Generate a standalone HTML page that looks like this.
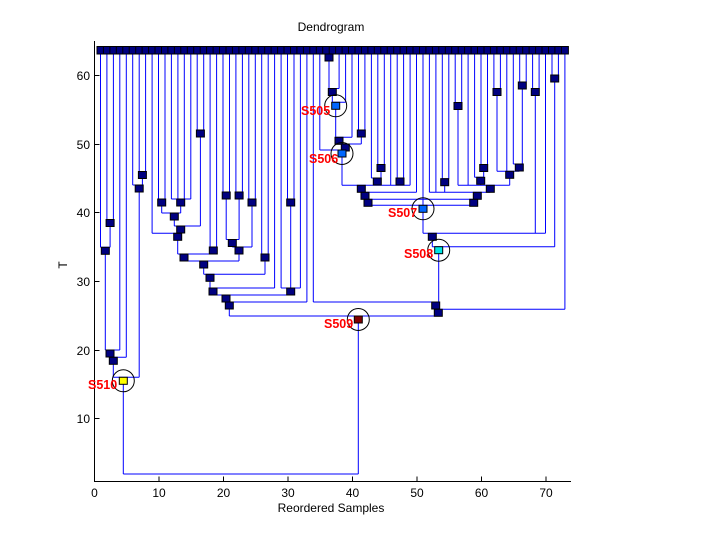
<!DOCTYPE html>
<html><head><meta charset="utf-8"><style>
html,body{margin:0;padding:0;background:#fff;}
svg{display:block;}
text{font-family:"Liberation Sans",sans-serif;}
</style></head><body>
<svg width="720" height="540" viewBox="0 0 720 540" xmlns="http://www.w3.org/2000/svg">
<rect width="720" height="540" fill="#fff"/>
<text x="331" y="31" font-size="12" text-anchor="middle">Dendrogram</text>
<text x="331" y="512" font-size="12" text-anchor="middle">Reordered Samples</text>
<text x="67" y="265" font-size="12" text-anchor="middle" transform="rotate(-90 67 265)">T</text>
<!-- axes -->
<path d="M94.5 41 V481.5 H571" fill="none" stroke="#000" stroke-width="1"/>
<path d="M94.5 418.5h5 M94.5 350.5h5 M94.5 281.5h5 M94.5 212.5h5 M94.5 144.5h5 M94.5 75.5h5
M159 481.5v-5 M223.5 481.5v-5 M288 481.5v-5 M352.5 481.5v-5 M417 481.5v-5 M481.5 481.5v-5 M546 481.5v-5" stroke="#000"/>
<g font-size="12" text-anchor="end">
<text x="90" y="423">10</text><text x="90" y="355">20</text><text x="90" y="286">30</text>
<text x="90" y="217">40</text><text x="90" y="149">50</text><text x="90" y="80">60</text>
</g>
<g font-size="12" text-anchor="middle">
<text x="94.5" y="497">0</text><text x="159" y="497">10</text><text x="223.5" y="497">20</text>
<text x="288" y="497">30</text><text x="352.5" y="497">40</text><text x="417" y="497">50</text>
<text x="481.5" y="497">60</text><text x="546" y="497">70</text>
</g>
<!-- tree lines -->
<path fill="none" stroke="#0000ff" stroke-width="1" d="
M100.5 54V247.3 M106.9 54V219.5 M113.4 54V219.5 M119.8 54V350 M126.3 54V357.3
M132.7 54V185 M139.2 54V171.5 M145.6 54V171.5 M152.1 54V233.3
M158.5 54V199 M165 54V199 M171.4 54V199 M177.9 54V199 M184.3 54V199 M190.8 54V199
M197.2 54V130 M203.7 54V130 M210.1 54V247 M216.6 54V247
M223 54V192 M229.5 54V192 M235.9 54V192 M242.4 54V192 M248.8 54V199 M255.3 54V199
M261.7 54V254 M268.2 54V254 M274.6 54V288 M281.1 54V288 M287.5 54V199 M294 54V199
M300.4 54V288 M306.9 54V302 M313.3 54V302 M319.8 54V150
M339.1 54V88.5 M345.6 54V102.3 M352 54V137.3 M358.5 54V130 M364.9 54V130
M371.4 54V178 M377.8 54V164.5 M384.3 54V164.5 M390.7 54V185.3 M397.2 54V178 M403.6 54V178
M410.1 54V185.3 M416.5 54V192.3 M423 54V205.3 M429.4 54V192.3 M435.9 54V192.3
M442.3 54V178.7 M448.8 54V178.7 M455.2 54V102.5 M461.7 54V102.5 M468.1 54V185.3
M474.6 54V177.3 M481 54V164.5 M487.5 54V164.5 M493.9 54V88.5 M500.4 54V88.5
M506.8 54V171.3 M513.3 54V164 M519.7 54V82 M526.2 54V82 M532.6 54V88.5 M539.1 54V88.5
M545.5 54V233.3 M552 54V75 M558.4 54V75 M564.9 54V309.3
M106.9 219.5H113.4 M110.1 219.5V247.3 M100.5 247.3H110.1 M105.3 247.3V350 M105.3 350H119.8
M110 350V357.3 M110 357.3H126.3 M113.3 357.3V377.3 M139.2 171.5H145.6 M142.4 171.5V185
M132.7 185H142.4 M139.2 185V377.3 M113.3 377.3H139.2 M123.3 377.3V474 M123.3 474H358.3
M158.5 199H165 M171.4 199H190.8 M161.7 199V213 M180.7 199V213 M161.7 213H180.7
M174.3 213V226 M197.2 130H203.7 M200.4 130V226 M174.3 226H200.4 M180.7 226V233.3
M152.1 233.3H180.7 M177.7 233.3V254 M210.1 247H216.6 M213.3 247V254 M177.7 254H213.3
M223 192H229.5 M235.9 192H242.4 M226.2 192V239.5 M239.1 192V239.5 M226.2 239.5H239.1
M232.3 239.5V247 M248.8 199H255.3 M252 199V247 M232.3 247H252 M239 247V261 M184 254V261
M184 261H239 M203.7 261V274.3 M261.7 254H268.2 M265 254V274.3 M203.7 274.3H265
M210 274.3V288 M210 288H274.6 M287.5 199H294 M290.7 199V288 M281.1 288H300.4
M213 288V295 M290.7 288V295 M213 295H290.7 M226 295V302 M226 302H306.9 M229.3 302V316
M229.3 316H438.3 M358.3 316V474
M326.2 54H332.7 M329 54V88.5 M329 88.5H339.1 M332.3 88.5V102.3 M332.3 102.3H345.6
M335.7 102.3V137.3 M335.7 137.3H352 M339 137.3V144 M358.5 130H364.9 M361.3 130V144
M339 144H361.3 M345.3 144V150 M319.8 150H345.3 M342 150V185.3
M377.8 164.5H384.3 M381 164.5V178 M371.4 178H381 M377.3 178V185.3 M397.2 178H403.6 M400 178V185.3
M342 185.3H410.1 M361.3 185.3V192.3 M361.3 192.3H416.5 M365 192.3V199.3
M455.2 102.5H461.7 M458 102.5V185.3 M481 164.5H487.5 M483.7 164.5V177.3 M474.6 177.3H483.7
M480.7 177.3V185.3 M493.9 88.5H500.4 M497 88.5V171.3 M519.7 82H526.2 M522.3 82V164
M513.3 164H522.3 M519.3 164V171.3 M497 171.3H519.3 M509.7 171.3V185.3 M458 185.3H509.7
M442.3 178.7H448.8 M444.7 178.7V192.3 M490.3 185.3V192.3 M429.4 192.3H490.3 M477.3 192.3V199.3
M365 199.3H477.3 M368 199.3V205.3 M473.7 199.3V205.3 M368 205.3H473.7 M423 205.3V233.3
M532.6 88.5H539.1 M535.3 88.5V233.3 M423 233.3H545.5 M432.3 233.3V246.7
M552 75H558.4 M554.7 75V246.7 M432.3 246.7H554.7 M438.7 246.7V302 M313.3 302H438.7
M435.7 302V309.3 M435.7 309.3H564.9 M438.3 309.3V316
"/>
<!-- leaf squares -->
<g fill="#000080" stroke="#000" stroke-width="1">
<rect x="97" y="46.5" width="7" height="7.5"/><rect x="103.4" y="46.5" width="7" height="7.5"/><rect x="109.9" y="46.5" width="7" height="7.5"/><rect x="116.3" y="46.5" width="7" height="7.5"/><rect x="122.8" y="46.5" width="7" height="7.5"/><rect x="129.2" y="46.5" width="7" height="7.5"/><rect x="135.7" y="46.5" width="7" height="7.5"/><rect x="142.1" y="46.5" width="7" height="7.5"/><rect x="148.6" y="46.5" width="7" height="7.5"/><rect x="155" y="46.5" width="7" height="7.5"/><rect x="161.5" y="46.5" width="7" height="7.5"/><rect x="167.9" y="46.5" width="7" height="7.5"/><rect x="174.4" y="46.5" width="7" height="7.5"/><rect x="180.8" y="46.5" width="7" height="7.5"/><rect x="187.3" y="46.5" width="7" height="7.5"/><rect x="193.7" y="46.5" width="7" height="7.5"/><rect x="200.2" y="46.5" width="7" height="7.5"/><rect x="206.6" y="46.5" width="7" height="7.5"/><rect x="213.1" y="46.5" width="7" height="7.5"/><rect x="219.5" y="46.5" width="7" height="7.5"/><rect x="226" y="46.5" width="7" height="7.5"/><rect x="232.4" y="46.5" width="7" height="7.5"/><rect x="238.9" y="46.5" width="7" height="7.5"/><rect x="245.3" y="46.5" width="7" height="7.5"/><rect x="251.8" y="46.5" width="7" height="7.5"/><rect x="258.2" y="46.5" width="7" height="7.5"/><rect x="264.7" y="46.5" width="7" height="7.5"/><rect x="271.1" y="46.5" width="7" height="7.5"/><rect x="277.6" y="46.5" width="7" height="7.5"/><rect x="284" y="46.5" width="7" height="7.5"/><rect x="290.5" y="46.5" width="7" height="7.5"/><rect x="296.9" y="46.5" width="7" height="7.5"/><rect x="303.4" y="46.5" width="7" height="7.5"/><rect x="309.8" y="46.5" width="7" height="7.5"/><rect x="316.3" y="46.5" width="7" height="7.5"/><rect x="322.7" y="46.5" width="7" height="7.5"/><rect x="329.2" y="46.5" width="7" height="7.5"/><rect x="335.6" y="46.5" width="7" height="7.5"/><rect x="342.1" y="46.5" width="7" height="7.5"/><rect x="348.5" y="46.5" width="7" height="7.5"/><rect x="355" y="46.5" width="7" height="7.5"/><rect x="361.4" y="46.5" width="7" height="7.5"/><rect x="367.9" y="46.5" width="7" height="7.5"/><rect x="374.3" y="46.5" width="7" height="7.5"/><rect x="380.8" y="46.5" width="7" height="7.5"/><rect x="387.2" y="46.5" width="7" height="7.5"/><rect x="393.7" y="46.5" width="7" height="7.5"/><rect x="400.1" y="46.5" width="7" height="7.5"/><rect x="406.6" y="46.5" width="7" height="7.5"/><rect x="413" y="46.5" width="7" height="7.5"/><rect x="419.5" y="46.5" width="7" height="7.5"/><rect x="425.9" y="46.5" width="7" height="7.5"/><rect x="432.4" y="46.5" width="7" height="7.5"/><rect x="438.8" y="46.5" width="7" height="7.5"/><rect x="445.3" y="46.5" width="7" height="7.5"/><rect x="451.7" y="46.5" width="7" height="7.5"/><rect x="458.2" y="46.5" width="7" height="7.5"/><rect x="464.6" y="46.5" width="7" height="7.5"/><rect x="471.1" y="46.5" width="7" height="7.5"/><rect x="477.5" y="46.5" width="7" height="7.5"/><rect x="484" y="46.5" width="7" height="7.5"/><rect x="490.4" y="46.5" width="7" height="7.5"/><rect x="496.9" y="46.5" width="7" height="7.5"/><rect x="503.3" y="46.5" width="7" height="7.5"/><rect x="509.8" y="46.5" width="7" height="7.5"/><rect x="516.2" y="46.5" width="7" height="7.5"/><rect x="522.7" y="46.5" width="7" height="7.5"/><rect x="529.1" y="46.5" width="7" height="7.5"/><rect x="535.6" y="46.5" width="7" height="7.5"/><rect x="542" y="46.5" width="7" height="7.5"/><rect x="548.5" y="46.5" width="7" height="7.5"/><rect x="554.9" y="46.5" width="7" height="7.5"/><rect x="561.4" y="46.5" width="7" height="7.5"/>
</g>
<!-- internal nodes -->
<g fill="#000080" stroke="#000" stroke-width="1">
<rect x="106.1" y="219.5" width="8" height="7"/><rect x="101.3" y="247.3" width="8" height="7"/><rect x="106" y="350" width="8" height="7"/><rect x="109.3" y="357.3" width="8" height="7"/>
<rect x="138.4" y="171.5" width="8" height="7"/><rect x="135.2" y="185" width="8" height="7"/><rect x="157.7" y="199" width="8" height="7"/><rect x="176.7" y="199" width="8" height="7"/>
<rect x="170.3" y="213" width="8" height="7"/><rect x="196.4" y="130" width="8" height="7"/><rect x="176.7" y="226" width="8" height="7"/><rect x="173.7" y="233.3" width="8" height="7"/>
<rect x="209.3" y="247" width="8" height="7"/><rect x="222.2" y="192" width="8" height="7"/><rect x="235.1" y="192" width="8" height="7"/><rect x="228.3" y="239.5" width="8" height="7"/>
<rect x="248" y="199" width="8" height="7"/><rect x="235" y="247" width="8" height="7"/><rect x="180" y="254" width="8" height="7"/><rect x="199.7" y="261" width="8" height="7"/>
<rect x="261" y="254" width="8" height="7"/><rect x="206" y="274.3" width="8" height="7"/><rect x="209" y="288" width="8" height="7"/><rect x="286.7" y="199" width="8" height="7"/>
<rect x="286.7" y="288" width="8" height="7"/><rect x="222" y="295" width="8" height="7"/><rect x="225.3" y="302" width="8" height="7"/>
<rect x="325" y="54" width="8" height="7"/><rect x="328.3" y="88.5" width="8" height="7"/><rect x="335" y="137.3" width="8" height="7"/><rect x="357.3" y="130" width="8" height="7"/>
<rect x="341.3" y="144" width="8" height="7"/><rect x="377" y="164.5" width="8" height="7"/><rect x="373.3" y="178" width="8" height="7"/><rect x="396" y="178" width="8" height="7"/>
<rect x="357.3" y="185.3" width="8" height="7"/><rect x="361" y="192.3" width="8" height="7"/><rect x="454" y="102.5" width="8" height="7"/><rect x="479.7" y="164.5" width="8" height="7"/>
<rect x="493" y="88.5" width="8" height="7"/><rect x="518.3" y="82" width="8" height="7"/><rect x="531.3" y="88.5" width="8" height="7"/><rect x="550.7" y="75" width="8" height="7"/>
<rect x="515.3" y="164" width="8" height="7"/><rect x="505.7" y="171.3" width="8" height="7"/><rect x="440.7" y="178.7" width="8" height="7"/><rect x="476.7" y="177.3" width="8" height="7"/>
<rect x="486.3" y="185.3" width="8" height="7"/><rect x="473.3" y="192.3" width="8" height="7"/><rect x="364" y="199.3" width="8" height="7"/><rect x="469.7" y="199.3" width="8" height="7"/>
<rect x="428.3" y="233.3" width="8" height="7"/><rect x="431.7" y="302" width="8" height="7"/><rect x="434.3" y="309.3" width="8" height="7"/>
</g>
<!-- highlighted nodes -->
<g stroke="#000" stroke-width="1">
<rect x="331.7" y="102.3" width="8" height="7" fill="#0066ff"/>
<rect x="338" y="150" width="8" height="7" fill="#0066ff"/>
<rect x="419" y="205.3" width="8" height="7" fill="#0066ff"/>
<rect x="434.7" y="246.7" width="8" height="7" fill="#00e6e6"/>
<rect x="354.3" y="316" width="8" height="7" fill="#800000"/>
<rect x="119.3" y="377.3" width="8" height="7" fill="#ffff00"/>
</g>
<g fill="none" stroke="#000" stroke-width="1">
<circle cx="335.7" cy="105.8" r="11"/>
<circle cx="342" cy="153.5" r="11"/>
<circle cx="423" cy="208.8" r="11"/>
<circle cx="438.7" cy="250.2" r="11"/>
<circle cx="358.3" cy="319.5" r="11"/>
<circle cx="123.3" cy="380.8" r="11"/>
</g>
<g fill="#ff0000" font-size="12.5" font-weight="bold">
<text x="301" y="115">S505</text>
<text x="309" y="163">S506</text>
<text x="388" y="217">S507</text>
<text x="404" y="258">S508</text>
<text x="324" y="328">S509</text>
<text x="88" y="389">S510</text>
</g>
</svg>
</body></html>
